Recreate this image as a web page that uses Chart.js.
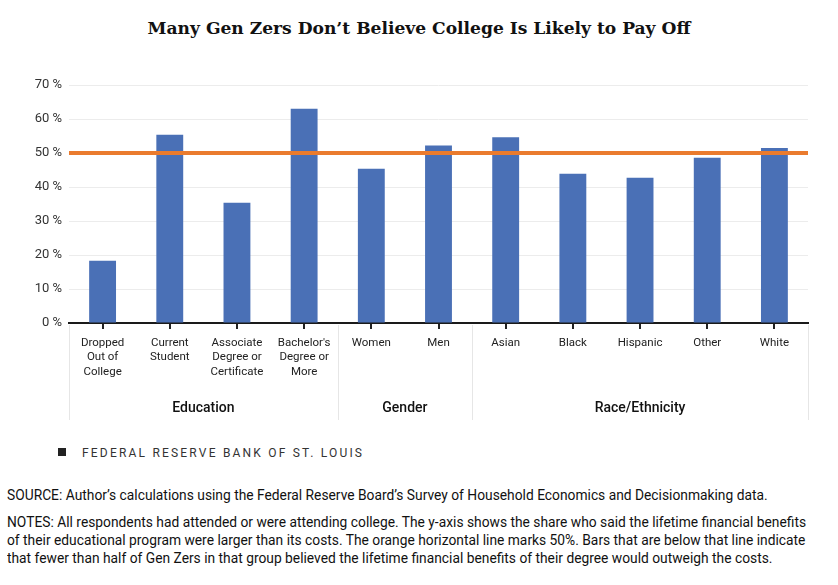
<!DOCTYPE html>
<html>
<head>
<meta charset="utf-8">
<script src="https://cdn.jsdelivr.net/npm/chart.js@4"></script>
<style>
  html, body { margin: 0; padding: 0; background: #fff; }
  body { width: 838px; height: 585px; position: relative; overflow: hidden; }
  #title { position: absolute; left: 0; width: 838px; top: 18px; text-align: center;
    font-family: "DejaVu Serif", serif; font-weight: bold; font-size: 17.1px; color: #111; }
  #wrap { position: absolute; left: 0; top: 0; width: 838px; height: 430px; }
  #brand { position: absolute; left: 58px; top: 446px; font-family: Roboto, sans-serif; font-size: 12px;
    letter-spacing: 2.2px; color: #333; }
  #brand span.sq { display: inline-block; width: 8px; height: 8px; background: #222; margin-right: 16px; vertical-align: 1px; }
  #source, #notes { position: absolute; left: 7px; font-family: Roboto, sans-serif; font-size: 15px; color: #111;
    line-height: 18px; transform-origin: 0 0; transform: scaleX(0.92); white-space: nowrap; }
  #source { top: 486px; }
  #notes { top: 513px; }
</style>
</head>
<body>
<div id="title">Many Gen Zers Don’t Believe College Is Likely to Pay Off</div>
<div id="wrap"><canvas id="c" width="838" height="430"></canvas></div>
<div id="brand"><span class="sq"></span>FEDERAL RESERVE BANK OF ST. LOUIS</div>
<div id="source">SOURCE: Author’s calculations using the Federal Reserve Board’s Survey of Household Economics and Decisionmaking data.</div>
<div id="notes">NOTES: All respondents had attended or were attending college. The y-axis shows the share who said the lifetime financial benefits<br>of their educational program were larger than its costs. The orange horizontal line marks 50%. Bars that are below that line indicate<br>that fewer than half of Gen Zers in that group believed the lifetime financial benefits of their degree would outweigh the costs.</div>
<script>
const categories = [
  ["Dropped", "Out of", "College"],
  ["Current", "Student"],
  ["Associate", "Degree or", "Certificate"],
  ["Bachelor's", "Degree or", "More"],
  ["Women"],
  ["Men"],
  ["Asian"],
  ["Black"],
  ["Hispanic"],
  ["Other"],
  ["White"]
];
const shareValues = [18.3, 55.4, 35.4, 63.0, 45.4, 52.2, 54.6, 43.9, 42.7, 48.6, 51.5];
const groupNames = ["Education", "Gender", "Race/Ethnicity"];
const groupSizes = [4, 2, 5];
const referenceLine = 50;
const yTicks = [0, 10, 20, 30, 40, 50, 60, 70];

const groupPlugin = {
  id: 'groups',
  afterDatasetsDraw(chart) {
    const ctx = chart.ctx;
    const y = chart.scales.y;
    const area = chart.chartArea;
    const yy = y.getPixelForValue(referenceLine);
    ctx.save();
    ctx.strokeStyle = '#EA7B2E';
    ctx.lineWidth = 4;
    ctx.beginPath();
    ctx.moveTo(area.left, yy);
    ctx.lineTo(area.right, yy);
    ctx.stroke();
    ctx.restore();
  },
  afterDraw(chart) {
    const ctx = chart.ctx;
    const area = chart.chartArea;
    const step = (area.right - area.left) / categories.length;
    ctx.save();
    ctx.strokeStyle = '#e6e6e6';
    ctx.lineWidth = 1;
    let start = 0;
    const bounds = [0];
    groupSizes.forEach(s => { start += s; bounds.push(start); });
    bounds.forEach(b => {
      const px = Math.round(area.left + b * step) + 0.5;
      ctx.beginPath();
      ctx.moveTo(px, area.bottom + 2);
      ctx.lineTo(px, 420);
      ctx.stroke();
    });
    ctx.fillStyle = '#111';
    ctx.font = '500 14px Roboto, sans-serif';
    ctx.textAlign = 'center';
    ctx.textBaseline = 'middle';
    groupNames.forEach((g, i) => {
      const cx = area.left + (bounds[i] + bounds[i + 1]) / 2 * step;
      ctx.fillText(g, cx, 408);
    });
    ctx.restore();
  }
};

new Chart(document.getElementById('c'), {
  type: 'bar',
  data: {
    labels: categories,
    datasets: [{
      data: shareValues,
      backgroundColor: '#4A70B6',
      borderWidth: 0,
      barPercentage: 0.4,
      categoryPercentage: 1.0
    }]
  },
  options: {
    responsive: false,
    animation: false,
    devicePixelRatio: 1,
    layout: { padding: { left: 0, right: 30, top: 85, bottom: 0 } },
    plugins: { legend: { display: false }, tooltip: { enabled: false }, title: { display: false } },
    scales: {
      x: {
        afterFit(s) { s.height = 107; },
        grid: { display: true, drawOnChartArea: false, drawTicks: true, tickLength: 6, color: '#222', lineWidth: 2, offset: false },
        border: { display: true, color: '#1a1a1a', width: 2 },
        ticks: { color: '#222', font: { family: 'Roboto, sans-serif', size: 11.5, lineHeight: 1.25 }, padding: 7, maxRotation: 0, autoSkip: false }
      },
      y: {
        min: 0, max: 70,
        afterFit(s) { s.width = 69; },
        afterBuildTicks(s) { s.ticks = yTicks.map(v => ({ value: v })); },
        grid: { color: '#ececec', lineWidth: 1, drawTicks: false },
        border: { display: false },
        ticks: { color: '#333', padding: 7, font: { family: 'Roboto, sans-serif', size: 13 },
          callback: v => v + ' %' }
      }
    }
  },
  plugins: [groupPlugin]
});
</script>
</body>
</html>
